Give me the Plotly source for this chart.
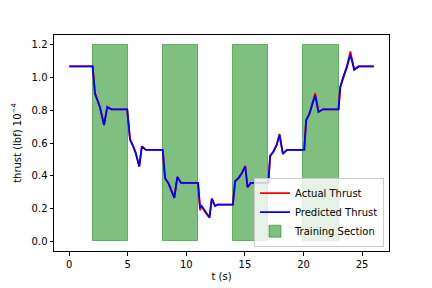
import plotly.graph_objects as go

# ---- data ----
t = [0, 2.0, 2.2, 2.4, 2.62, 2.97, 3.25, 3.6, 4.95, 5.19, 5.47, 5.67, 5.98, 6.2, 6.55,
     7.98, 8.18, 8.46, 8.97, 9.23, 9.55, 11.0, 11.17, 11.3, 11.65, 11.97, 12.17, 12.45,
     12.65, 13.97, 14.16, 14.45, 14.73, 15.03, 15.22, 15.5, 17.0, 17.15, 17.44, 17.72,
     17.95, 18.24, 18.58, 20.06, 20.23, 20.51, 20.77, 21.0, 21.28, 21.66, 22.99, 23.14,
     23.42, 23.71, 24.0, 24.33, 24.7, 26.0]

predicted = [1.068, 1.068, 0.90, 0.86, 0.82, 0.71, 0.82, 0.806, 0.806, 0.62, 0.58, 0.54,
             0.457, 0.579, 0.558, 0.558, 0.385, 0.356, 0.265, 0.393, 0.356, 0.356, 0.205,
             0.215, 0.174, 0.144, 0.26, 0.215, 0.223, 0.223, 0.366, 0.385, 0.415, 0.457,
             0.33, 0.356, 0.356, 0.518, 0.548, 0.59, 0.65, 0.534, 0.558, 0.558, 0.74, 0.78,
             0.842, 0.89, 0.79, 0.806, 0.806, 0.943, 1.004, 1.064, 1.14, 1.048, 1.068, 1.068]

actual = [1.068, 1.068, 0.905, 0.86, 0.82, 0.71, 0.82, 0.806, 0.806, 0.625, 0.58, 0.54,
          0.457, 0.579, 0.558, 0.558, 0.385, 0.356, 0.265, 0.393, 0.356, 0.356, 0.19,
          0.215, 0.174, 0.144, 0.26, 0.215, 0.223, 0.223, 0.366, 0.385, 0.415, 0.46,
          0.33, 0.356, 0.356, 0.525, 0.548, 0.59, 0.655, 0.534, 0.558, 0.558, 0.74, 0.78,
          0.842, 0.905, 0.79, 0.806, 0.806, 0.943, 1.01, 1.07, 1.16, 1.048, 1.068, 1.068]

train_start = [2, 8, 14, 20]
train_end = [5, 11, 17, 23]
train_height = [1.2, 1.2, 1.2, 1.2]

x_ticks = [0, 5, 10, 15, 20, 25]
y_ticks = [0.0, 0.2, 0.4, 0.6, 0.8, 1.0, 1.2]

# ---- figure ----
fig = go.Figure()

centers = [(a + b) / 2 for a, b in zip(train_start, train_end)]
widths = [b - a for a, b in zip(train_start, train_end)]
fig.add_trace(go.Bar(
    x=centers, y=train_height, width=widths, name="Training Section",
    marker=dict(color="rgba(0,128,0,0.5)", line=dict(color="rgba(0,128,0,0.5)", width=1)),
    legendrank=3, hoverinfo="skip",
))
fig.add_trace(go.Scatter(x=t, y=actual, mode="lines", name="Actual Thrust",
                         line=dict(color="red", width=1.8), legendrank=1))
fig.add_trace(go.Scatter(x=t, y=predicted, mode="lines", name="Predicted Thrust",
                         line=dict(color="blue", width=1.8), legendrank=2))

axis_common = dict(
    showgrid=False, zeroline=False, showline=True, linecolor="black", linewidth=1,
    mirror=True, ticks="outside", ticklen=3.5, tickwidth=1, tickcolor="black",
    automargin=False,
    tickfont=dict(family="DejaVu Sans", size=10, color="black"),
)

# page body has an 8px default margin, so the margins compensate for it
fig.update_layout(
    width=432, height=288,
    margin=dict(l=46, r=51, t=27, b=45),
    paper_bgcolor="white", plot_bgcolor="white",
    font=dict(family="DejaVu Sans", size=10, color="black"),
    bargap=0,
    xaxis=dict(range=[-1.3, 27.3], tickvals=x_ticks,
               title=dict(text="t (s)", font=dict(size=10), standoff=4), **axis_common),
    yaxis=dict(range=[-0.06, 1.26], tickvals=y_ticks, tickformat=".1f",
               title=dict(text="thrust (lbf) 10<sup>−4</sup>", font=dict(size=10), standoff=8),
               **axis_common),
    legend=dict(x=0.985, y=0.02, xanchor="right", yanchor="bottom",
                bgcolor="rgba(255,255,255,0.8)", bordercolor="#cccccc", borderwidth=1,
                font=dict(size=10), tracegroupgap=0, itemwidth=30),
    showlegend=True,
)

fig.write_html("out.html")
